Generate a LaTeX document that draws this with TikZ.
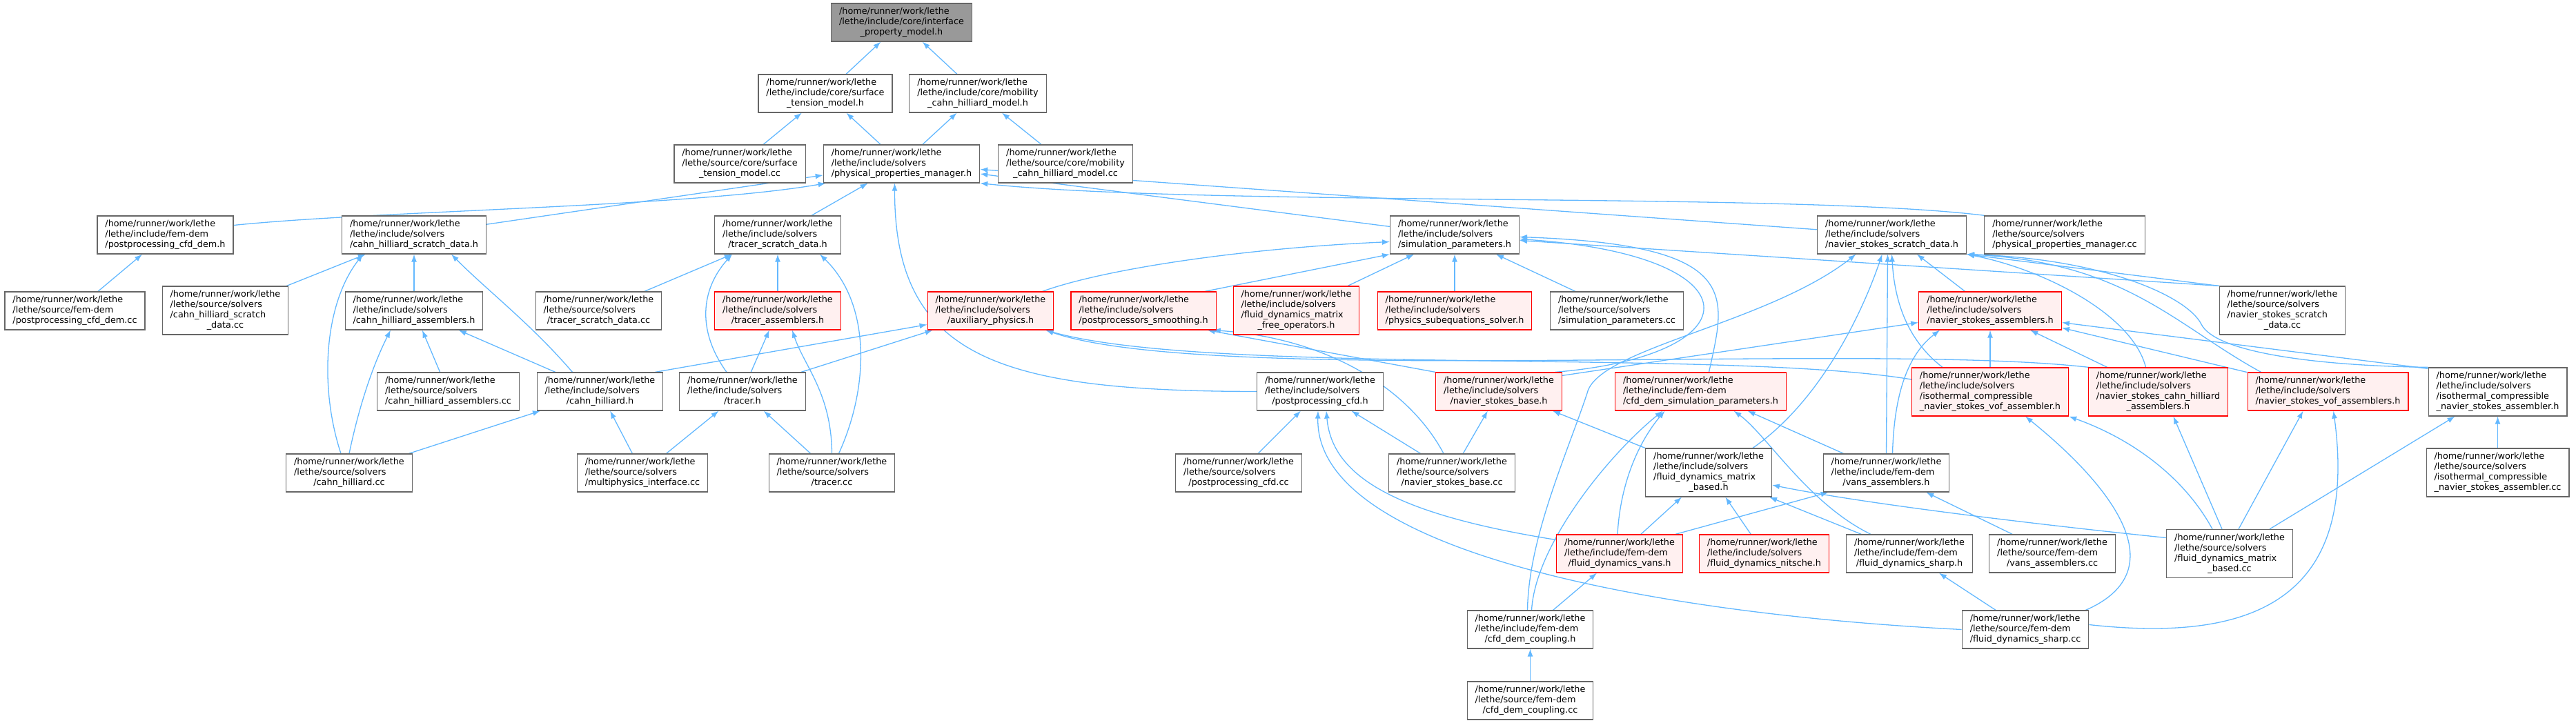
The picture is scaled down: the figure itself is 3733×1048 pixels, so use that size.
\documentclass[tikz,border=0pt]{standalone}
\usepackage{fontspec}
\setmainfont{DejaVu Sans}
\usepackage{tikz}
\usetikzlibrary{arrows.meta,backgrounds}
\usepackage{xcolor}

\definecolor{edgeblue}{HTML}{63B8FF}
\definecolor{nodeborder}{HTML}{666666}
\definecolor{rootfill}{HTML}{999999}
\definecolor{truncfill}{HTML}{FFF0F0}

% three and four line file labels, last line centred
\newcommand{\incpath}[2]{\begin{tabular}{@{}l@{}}/home/runner/work/lethe\\#1\\\multicolumn{1}{@{}c@{}}{#2}\end{tabular}}
\newcommand{\incpathl}[3]{\begin{tabular}{@{}l@{}}/home/runner/work/lethe\\#1\\#2\\\multicolumn{1}{@{}c@{}}{#3}\end{tabular}}

\begin{document}
\begin{tikzpicture}[
    x=1pt, y=1pt,
    >={Latex[length=11pt,width=8pt]},
    file/.style={draw=nodeborder, fill=white, line width=1.2pt, inner xsep=11.5pt, inner ysep=5pt, font=\fontsize{12.8}{15}\selectfont},
    trunc/.style={file, draw=red, fill=truncfill},
    rootfile/.style={file, fill=rootfill},
    dep/.style={->, draw=edgeblue, line width=1.3pt}
]
    \useasboundingbox (0,0) rectangle (3733,-1048);

    % Root and core models
    \node[rootfile] (root) at (1306.5,-32.5) {\incpath{/lethe/include/core/interface}{\_property\_model.h}};
    \node[file] (sth) at (1196,-135.5) {\incpath{/lethe/include/core/surface}{\_tension\_model.h}};
    \node[file] (mchh) at (1417,-135.5) {\incpath{/lethe/include/core/mobility}{\_cahn\_hilliard\_model.h}};
    \node[file] (stcc) at (1072,-237.5) {\incpath{/lethe/source/core/surface}{\_tension\_model.cc}};
    \node[file] (ppmh) at (1306.5,-237.5) {\incpath{/lethe/include/solvers}{/physical\_properties\_manager.h}};
    \node[file] (mchcc) at (1544,-237.5) {\incpath{/lethe/source/core/mobility}{\_cahn\_hilliard\_model.cc}};

    % Row of scratch data
    \node[file] (pcdh) at (239.5,-340.5) {\incpath{/lethe/include/fem-dem}{/postprocessing\_cfd\_dem.h}};
    \node[file] (chsdh) at (600,-340.5) {\incpath{/lethe/include/solvers}{/cahn\_hilliard\_scratch\_data.h}};
    \node[file] (tsdh) at (1127,-340.5) {\incpath{/lethe/include/solvers}{/tracer\_scratch\_data.h}};
    \node[file] (sph) at (2108,-340.5) {\incpath{/lethe/include/solvers}{/simulation\_parameters.h}};
    \node[file] (nssdh) at (2741.5,-340.5) {\incpath{/lethe/include/solvers}{/navier\_stokes\_scratch\_data.h}};
    \node[file] (ppmcc) at (2992,-340.5) {\incpath{/lethe/source/solvers}{/physical\_properties\_manager.cc}};

    % Row of assemblers
    \node[file] (pcdcc) at (108.5,-450.5) {\incpath{/lethe/source/fem-dem}{/postprocessing\_cfd\_dem.cc}};
    \node[file] (chsdcc) at (326.5,-450) {\incpathl{/lethe/source/solvers}{/cahn\_hilliard\_scratch}{\_data.cc}};
    \node[file] (chah) at (600,-450.5) {\incpath{/lethe/include/solvers}{/cahn\_hilliard\_assemblers.h}};
    \node[file] (tsdcc) at (867.5,-450.5) {\incpath{/lethe/source/solvers}{/tracer\_scratch\_data.cc}};
    \node[trunc] (tah) at (1127,-450.5) {\incpath{/lethe/include/solvers}{/tracer\_assemblers.h}};
    \node[trunc] (auxh) at (1435.5,-450.5) {\incpath{/lethe/include/solvers}{/auxiliary\_physics.h}};
    \node[trunc] (psh) at (1657,-450.5) {\incpath{/lethe/include/solvers}{/postprocessors\_smoothing.h}};
    \node[trunc] (fdmfh) at (1878.5,-450) {\incpathl{/lethe/include/solvers}{/fluid\_dynamics\_matrix}{\_free\_operators.h}};
    \node[trunc] (pssh) at (2108,-450.5) {\incpath{/lethe/include/solvers}{/physics\_subequations\_solver.h}};
    \node[file] (spcc) at (2343,-450.5) {\incpath{/lethe/source/solvers}{/simulation\_parameters.cc}};
    \node[trunc] (nsah) at (2884,-450.5) {\incpath{/lethe/include/solvers}{/navier\_stokes\_assemblers.h}};
    \node[file] (nssdcc) at (3307.5,-450) {\incpathl{/lethe/source/solvers}{/navier\_stokes\_scratch}{\_data.cc}};

    % Row of solvers
    \node[file] (chacc) at (649.5,-567.5) {\incpath{/lethe/source/solvers}{/cahn\_hilliard\_assemblers.cc}};
    \node[file] (chh) at (869.5,-567.5) {\incpath{/lethe/include/solvers}{/cahn\_hilliard.h}};
    \node[file] (trh) at (1076,-567.5) {\incpath{/lethe/include/solvers}{/tracer.h}};
    \node[file] (pch) at (1913,-567.5) {\incpath{/lethe/include/solvers}{/postprocessing\_cfd.h}};
    \node[trunc] (nsbh) at (2172,-567.5) {\incpath{/lethe/include/solvers}{/navier\_stokes\_base.h}};
    \node[trunc] (cdsph) at (2464.5,-567.5) {\incpath{/lethe/include/fem-dem}{/cfd\_dem\_simulation\_parameters.h}};
    \node[trunc] (icnsvofh) at (2884,-568) {\incpathl{/lethe/include/solvers}{/isothermal\_compressible}{\_navier\_stokes\_vof\_assembler.h}};
    \node[trunc] (nschh) at (3127.5,-568) {\incpathl{/lethe/include/solvers}{/navier\_stokes\_cahn\_hilliard}{\_assemblers.h}};
    \node[trunc] (nsvofh) at (3373.5,-567.5) {\incpath{/lethe/include/solvers}{/navier\_stokes\_vof\_assemblers.h}};
    \node[file] (icnsh) at (3619.5,-568) {\incpathl{/lethe/include/solvers}{/isothermal\_compressible}{\_navier\_stokes\_assembler.h}};

    % Row of sources
    \node[file] (chcc) at (506,-685.5) {\incpath{/lethe/source/solvers}{/cahn\_hilliard.cc}};
    \node[file] (mpicc) at (931,-685.5) {\incpath{/lethe/source/solvers}{/multiphysics\_interface.cc}};
    \node[file] (trcc) at (1205.5,-685.5) {\incpath{/lethe/source/solvers}{/tracer.cc}};
    \node[file] (pccc) at (1795,-685.5) {\incpath{/lethe/source/solvers}{/postprocessing\_cfd.cc}};
    \node[file] (nsbcc) at (2104,-685.5) {\incpath{/lethe/source/solvers}{/navier\_stokes\_base.cc}};
    \node[file] (fdmbh) at (2476,-685) {\incpathl{/lethe/include/solvers}{/fluid\_dynamics\_matrix}{\_based.h}};
    \node[file] (vah) at (2733.5,-685.5) {\incpath{/lethe/include/fem-dem}{/vans\_assemblers.h}};
    \node[file] (icnscc) at (3619.5,-685) {\incpathl{/lethe/source/solvers}{/isothermal\_compressible}{\_navier\_stokes\_assembler.cc}};

    % Fluid dynamics
    \node[trunc] (fdvh) at (2347,-802.5) {\incpath{/lethe/include/fem-dem}{/fluid\_dynamics\_vans.h}};
    \node[trunc] (fdnh) at (2556.5,-802.5) {\incpath{/lethe/include/solvers}{/fluid\_dynamics\_nitsche.h}};
    \node[file] (fdsh) at (2767,-802.5) {\incpath{/lethe/include/fem-dem}{/fluid\_dynamics\_sharp.h}};
    \node[file] (vacc) at (2974,-802.5) {\incpath{/lethe/source/fem-dem}{/vans\_assemblers.cc}};
    \node[file] (fdmbcc) at (3231,-802.5) {\incpathl{/lethe/source/solvers}{/fluid\_dynamics\_matrix}{\_based.cc}};
    \node[file] (cdch) at (2217.5,-912.5) {\incpath{/lethe/include/fem-dem}{/cfd\_dem\_coupling.h}};
    \node[file] (fdscc) at (2935,-912.5) {\incpath{/lethe/source/fem-dem}{/fluid\_dynamics\_sharp.cc}};
    \node[file] (cdccc) at (2217.5,-1015.5) {\incpath{/lethe/source/fem-dem}{/cfd\_dem\_coupling.cc}};

    \begin{scope}[on background layer]
    % Core models
    \draw[dep] (sth) -- (root);
    \draw[dep] (mchh) -- (root);
    \draw[dep] (stcc) -- (sth);
    \draw[dep] (ppmh) -- (sth);
    \draw[dep] (ppmh) -- (mchh);
    \draw[dep] (mchcc) -- (mchh);

    % Physical properties manager
    \draw[dep] ([yshift=14pt]pcdh.east) .. controls (550,-305) and (1000,-300) .. ([xshift=4pt]ppmh.south west);
    \draw[dep] (chsdh) -- (ppmh);
    \draw[dep] (tsdh) -- (ppmh);
    \draw[dep] (pch.west) .. controls (1450,-567) and (1296,-520) .. ([xshift=-10pt]ppmh.south);
    \draw[dep] (sph) -- (ppmh);
    \draw[dep] (nssdh) -- (ppmh);
    \draw[dep] ([xshift=1pt]ppmcc.north west) .. controls (2600,-278) and (1750,-300) .. (ppmh.south east);

    % Cahn-Hilliard and tracer
    \draw[dep] (pcdcc) -- (pcdh);
    \draw[dep] (chsdcc) -- (chsdh);
    \draw[dep] (chah) -- (chsdh);
    \draw[dep] ([xshift=-40pt]chh.north) .. controls (770,-470) and (705,-420) .. ([xshift=54pt]chsdh.south);
    \draw[dep] ([xshift=-12pt]chcc.north) .. controls (462,-560) and (470,-440) .. ([xshift=-74pt]chsdh.south);
    \draw[dep] (chacc) -- (chah);
    \draw[dep] (chh) -- (chah);
    \draw[dep] (chcc.north) .. controls (520,-590) and (540,-530) .. ([xshift=-34pt]chah.south);
    \draw[dep] (chcc) -- (chh);
    \draw[dep] (mpicc) -- (chh);
    \draw[dep] (mpicc) -- (trh);
    \draw[dep] (trcc) -- (trh);
    \draw[dep] (trcc.north) .. controls (1205,-570) and (1165,-530) .. ([xshift=21pt]tah.south);
    \draw[dep] ([xshift=10pt]trcc.north) .. controls (1260,-560) and (1262,-440) .. ([xshift=61pt]tsdh.south);
    \draw[dep] (trh) -- (tah);
    \draw[dep] ([xshift=-23pt]trh.north) .. controls (1010,-480) and (1015,-420) .. ([xshift=-66pt]tsdh.south);
    \draw[dep] (tsdcc) -- (tsdh);
    \draw[dep] (tah) -- (tsdh);
    \draw[dep] ([xshift=-12pt]chh.north east) -- ([yshift=-20pt]auxh.west);
    \draw[dep] ([xshift=-7pt]trh.north east) -- ([xshift=8pt]auxh.south west);

    % Simulation parameters
    \draw[dep] ([xshift=75pt]auxh.north) .. controls (1600,-390) and (1800,-360) .. ([yshift=-10pt]sph.west);
    \draw[dep] ([xshift=89pt]psh.north) -- (sph.south west);
    \draw[dep] (fdmfh) -- (sph);
    \draw[dep] (pssh) -- (sph);
    \draw[dep] (spcc) -- (sph);
    \draw[dep] ([xshift=-10pt]nsbh.north east) .. controls (2545,-515) and (2550,-370) .. ([yshift=-6pt]sph.east);
    \draw[dep] ([xshift=12pt]cdsph.north) .. controls (2500,-430) and (2530,-355) .. ([yshift=-3pt]sph.east);
    \draw[dep] (nssdcc.north west) -- ([yshift=-8pt]sph.east);

    % Postprocessing and base
    \draw[dep] (nsbh.north west) -- ([xshift=-13pt]psh.south east);
    \draw[dep] ([xshift=-12pt]nsbcc.north) .. controls (2040,-560) and (1920,-490) .. ([xshift=-5pt]psh.south east);
    \draw[dep] (pccc) -- (pch);
    \draw[dep] (nsbcc) -- (pch);
    \draw[dep] ([yshift=20pt]fdvh.west) .. controls (2020,-745) and (1930,-690) .. ([xshift=9pt]pch.south);
    \draw[dep] (fdscc.west) .. controls (2400,-890) and (1905,-800) .. ([xshift=-3pt]pch.south);
    \draw[dep] (nsbcc) -- (nsbh);
    \draw[dep] (fdmbh.north west) -- ([xshift=-14pt]nsbh.south east);
    \draw[dep] ([xshift=1pt]nschh.north west) .. controls (2700,-495) and (1750,-560) .. ([xshift=-12pt]auxh.south east);
    \draw[dep] ([yshift=18pt]icnsvofh.west) .. controls (2500,-505) and (1750,-545) .. ([xshift=-12pt]auxh.south east);

    % Navier-Stokes scratch data and assemblers
    \draw[dep] ([yshift=-5pt]nsbh.north east) -- ([yshift=-17pt]nsah.west);
    \draw[dep] (nsah) -- (nssdh);
    \draw[dep] ([xshift=-4pt]cdch.north) .. controls (2215,-780) and (2270,-660) .. (2300,-570) .. controls (2315,-505) and (2560,-470) .. ([xshift=-52pt]nssdh.south);
    \draw[dep] ([xshift=64pt]fdmbh.north) .. controls (2640,-580) and (2700,-450) .. ([xshift=-14pt]nssdh.south);
    \draw[dep] (vah.north) -- ([xshift=-6pt]nssdh.south);
    \draw[dep] ([xshift=-69pt]icnsvofh.north) .. controls (2760,-490) and (2745,-430) .. (nssdh.south);
    \draw[dep] ([xshift=-18pt]nschh.north) .. controls (3090,-455) and (2960,-390) .. (nssdh.south east);
    \draw[dep] ([xshift=-97pt]nsvofh.north) .. controls (3150,-470) and (3080,-380) .. (nssdh.south east);
    \draw[dep] (icnsh.north west) .. controls (3350,-530) and (3210,-510) .. (3190,-470) .. controls (3170,-430) and (3050,-375) .. (nssdh.south east);
    \draw[dep] (nssdcc.north west) -- (nssdh.south east);
    \draw[dep] ([xshift=9pt]vah.north) .. controls (2745,-560) and (2770,-510) .. ([xshift=-73pt]nsah.south);
    \draw[dep] (icnsvofh) -- (nsah);
    \draw[dep] (nschh) -- (nsah);
    \draw[dep] (nsvofh) -- (nsah);
    \draw[dep] ([yshift=-2pt]icnsh.north west) -- ([yshift=-17pt]nsah.east);

    % CFD-DEM
    \draw[dep] ([xshift=2pt]cdch.north) .. controls (2225,-790) and (2330,-660) .. ([xshift=-55pt]cdsph.south);
    \draw[dep] ([xshift=-3pt]fdvh.north) .. controls (2348,-700) and (2375,-640) .. ([xshift=-52pt]cdsph.south);
    \draw[dep] ([xshift=-56pt]fdsh.north) .. controls (2620,-730) and (2560,-630) .. ([xshift=48pt]cdsph.south);
    \draw[dep] ([xshift=-62pt]vah.north) -- ([xshift=68pt]cdsph.south);
    \draw[dep] (fdvh) -- (fdmbh);
    \draw[dep] (fdnh) -- (fdmbh);
    \draw[dep] (fdsh) -- (fdmbh);
    \draw[dep] ([yshift=23pt]fdmbcc.west) .. controls (2950,-760) and (2700,-730) .. ([yshift=-18pt]fdmbh.east);
    \draw[dep] ([xshift=-11pt]fdvh.north east) -- ([xshift=8pt]vah.south west);
    \draw[dep] (vacc) -- (vah);
    \draw[dep] (cdch) -- (fdvh);
    \draw[dep] (cdccc) -- (cdch);
    \draw[dep] (fdscc) -- (fdsh);

    % Matrix based and sharp sources
    \draw[dep] ([xshift=-5pt]fdscc.north east) .. controls (3170,-820) and (3030,-680) .. ([xshift=51pt]icnsvofh.south);
    \draw[dep] ([xshift=-25pt]fdmbcc.north) .. controls (3170,-700) and (3100,-640) .. (icnsvofh.south east);
    \draw[dep] ([xshift=-11pt]fdmbcc.north) -- ([xshift=22pt]nschh.south);
    \draw[dep] ([xshift=13pt]fdmbcc.north) -- ([xshift=-36pt]nsvofh.south);
    \draw[dep] ([yshift=7pt]fdscc.east) .. controls (3250,-930) and (3420,-880) .. ([xshift=8pt]nsvofh.south);
    \draw[dep] ([xshift=58pt]fdmbcc.north) -- ([xshift=-62pt]icnsh.south);
    \draw[dep] (icnscc) -- (icnsh);
    \end{scope}
\end{tikzpicture}
\end{document}
